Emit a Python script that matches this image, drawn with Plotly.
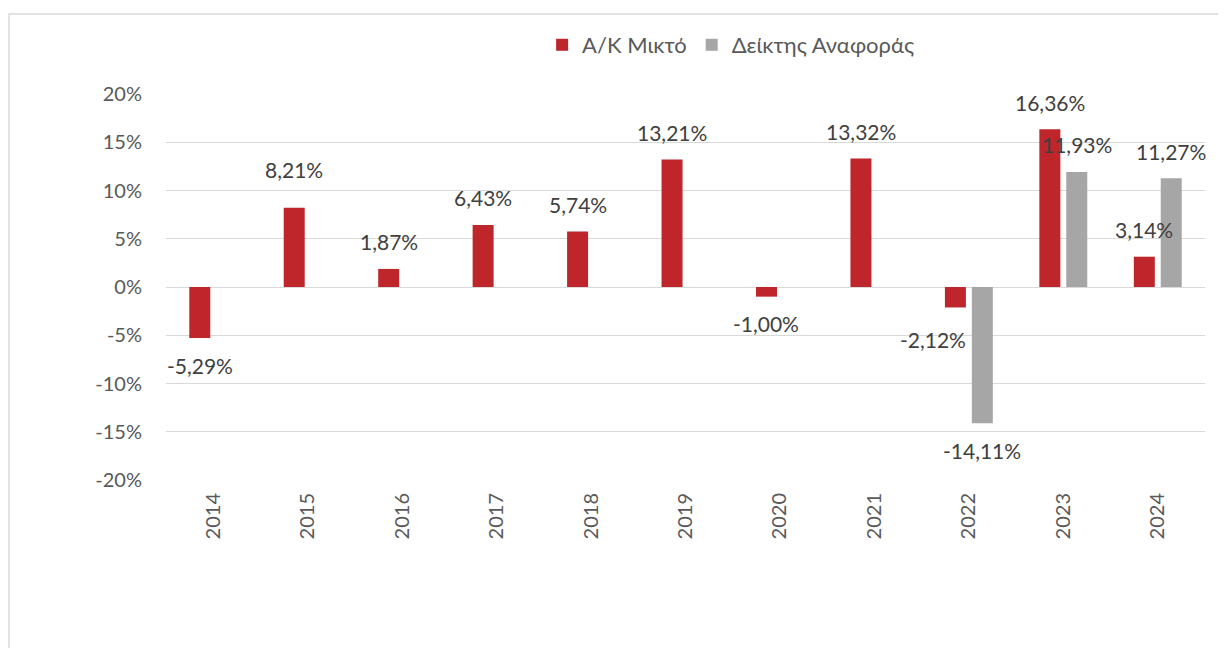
import plotly.graph_objects as go

years = ["2014", "2015", "2016", "2017", "2018", "2019", "2020", "2021", "2022", "2023", "2024"]
fund = [-5.29, 8.21, 1.87, 6.43, 5.74, 13.21, -1.00, 13.32, -2.12, 16.36, 3.14]
bench = [None, None, None, None, None, None, None, None, -14.11, 11.93, 11.27]
series_names = ["Α/Κ Μικτό", "Δείκτης Αναφοράς"]
y_ticks = [-20, -15, -10, -5, 0, 5, 10, 15, 20]

RED = "#BE262C"
GRAY = "#A6A6A6"
FONT = "Lato, Carlito, Calibri, sans-serif"

# plot-area geometry (pixels, figure coordinates; page adds an 8px body margin)
FW, FH = 1226, 648
L, R, T, B = 158, 29, 86, 176
W = FW - L - R
H = FH - T - B

fig = go.Figure()
fig.add_trace(go.Bar(x=years, y=fund, name=series_names[0], marker_color=RED,
                     marker_line_width=0))
fig.add_trace(go.Bar(x=years, y=bench, name=series_names[1], marker_color=GRAY,
                     marker_line_width=0))

def fmt(v):
    return f"{v:.2f}".replace(".", ",") + "%"

cat_w = W / len(years)
bargap, bargroupgap = 0.43, 0.22
slot = cat_w * (1 - bargap) / 2
# label nudges (style only): per-series, per-index extra pixel offsets
extra = {(0, 1): (0, 11), (0, 8): (-22, 5)}
annotations = []
for s, vals in enumerate([fund, bench]):
    xs = -slot / 2 if s == 0 else slot / 2
    for i, v in enumerate(vals):
        if v is None:
            continue
        dx, dy = extra.get((s, i), (0, 0))
        sign = 1 if v >= 0 else -1
        annotations.append(dict(
            x=i, y=v, xref="x", yref="y", text=fmt(v), showarrow=False,
            xshift=xs + dx, yshift=sign * (27 + dy),
            font=dict(family=FONT, size=21, color="#404040"),
        ))

fig.update_layout(
    width=FW, height=FH,
    margin=dict(l=L, r=R, t=T, b=B, autoexpand=False),
    paper_bgcolor="white", plot_bgcolor="white",
    barmode="group", bargap=bargap, bargroupgap=bargroupgap,
    font=dict(family=FONT, size=20, color="#595959"),
    showlegend=True,
    legend=dict(orientation="h", x=0.362, xanchor="left", y=1.127, yanchor="middle",
                font=dict(family=FONT, size=22, color="#595959"),
                itemwidth=30, traceorder="normal"),
    xaxis=dict(type="category", range=[-0.5, len(years) - 0.5], tickangle=-90,
               showgrid=False, showline=False, ticks="", ticklabelstandoff=8,
               automargin=False,
               tickfont=dict(family=FONT, size=20, color="#595959")),
    yaxis=dict(range=[-20, 20], tickvals=y_ticks,
               ticktext=[f"{t}%" for t in y_ticks],
               showgrid=True, gridcolor="#D9D9D9", gridwidth=1.3,
               zeroline=True, zerolinecolor="#D9D9D9", zerolinewidth=1.3,
               showline=False, ticks="", ticklabelstandoff=23, automargin=False,
               tickfont=dict(family=FONT, size=20, color="#595959")),
    annotations=annotations,
    shapes=[dict(type="rect", xref="paper", yref="paper",
                 x0=(1 - L) / W, x1=1.2, y0=-1.0, y1=(FH - B - 6) / H,
                 line=dict(color="#D9D9D9", width=1.5), layer="below")],
)

fig.write_html("out.html")
